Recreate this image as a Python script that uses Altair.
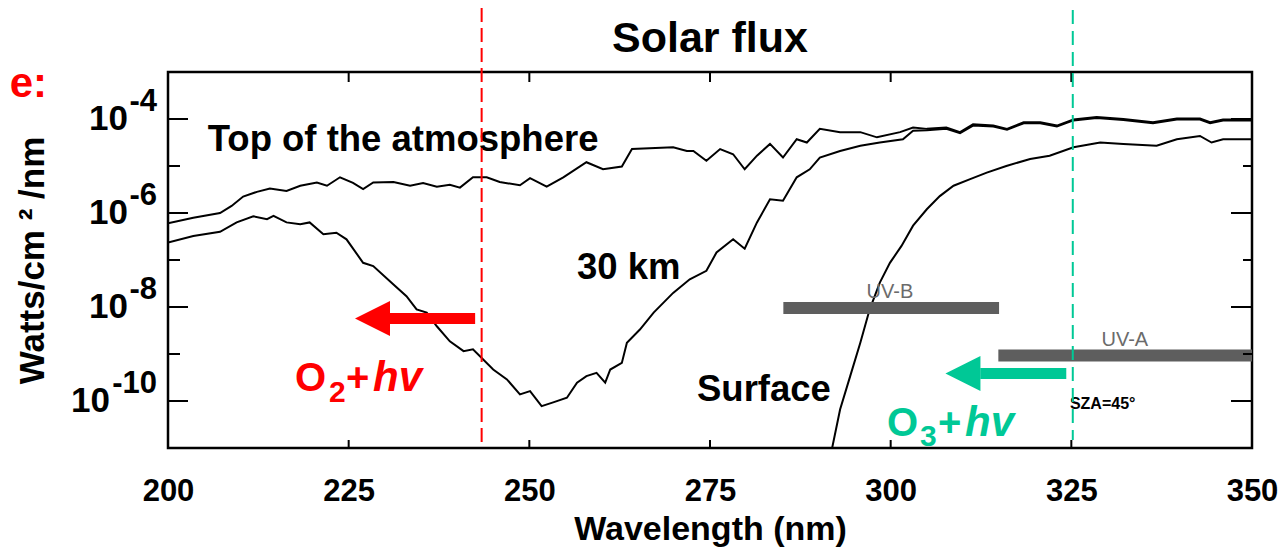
import altair as alt
import pandas as pd

SANS = "Liberation Sans"
RED = "#ff0000"
GREEN = "#00c896"

# ---- data (log10 of W/cm2/nm) ----
toa_wl = [200.0, 203.5, 207.2, 208.8, 210.4, 212.3, 214.1, 216.4, 218.3, 220.6, 222.0, 223.8,
          225.6, 227.0, 228.4, 231.2, 233.5, 235.3, 237.2, 239.0, 240.4, 242.2, 244.1, 245.9,
          248.7, 250.1, 252.4, 254.7, 257.9, 260.2, 262.8, 264.2, 269.9, 271.8, 272.7, 274.5,
          276.4, 278.2, 279.8, 281.5, 283.3, 285.1, 287.0, 288.4, 290.2, 293.0, 295.8, 298.1,
          301.3, 303.1, 305.0, 307.7, 309.6, 311.4, 314.2, 316.1, 318.4, 320.7, 323.0, 325.3,
          328.5, 332.2, 336.3, 339.6, 342.8, 344.2, 346.0, 350.0]
toa_log = [-6.22, -6.10, -6.00, -5.85, -5.65, -5.55, -5.48, -5.53, -5.42, -5.35, -5.42, -5.24,
           -5.36, -5.49, -5.35, -5.34, -5.42, -5.36, -5.44, -5.40, -5.46, -5.24, -5.24, -5.34,
           -5.41, -5.26, -5.44, -5.24, -4.92, -5.07, -5.01, -4.64, -4.60, -4.68, -4.68, -4.89,
           -4.64, -4.75, -5.07, -4.78, -4.53, -4.82, -4.43, -4.50, -4.21, -4.28, -4.28, -4.39,
           -4.28, -4.18, -4.21, -4.18, -4.28, -4.11, -4.14, -4.21, -4.07, -4.07, -4.14, -4.01,
           -3.96, -4.00, -4.07, -3.99, -3.99, -4.07, -4.01, -4.01]

km30_wl = [200.0, 203.5, 207.2, 209.5, 211.8, 213.7, 214.6, 216.4, 218.3, 219.6, 221.5, 223.3,
           224.7, 227.0, 228.4, 231.2, 233.0, 234.4, 235.8, 237.2, 239.0, 240.9, 242.2, 245.0,
           246.9, 248.7, 250.1, 251.7, 253.3, 255.2, 256.6, 257.9, 259.3, 260.5, 261.2, 262.8,
           263.5, 265.3, 267.2, 269.9, 272.2, 274.5, 275.9, 278.2, 279.8, 281.5, 283.3, 285.1,
           287.0, 288.8, 290.2, 293.0, 295.8, 298.5, 301.7, 303.1, 305.0, 307.7, 309.6, 311.4,
           314.2, 316.1, 318.4, 320.7, 323.0, 325.3, 328.5, 332.2, 336.3, 339.6, 342.8, 344.2,
           346.0, 350.0]
km30_log = [-6.63, -6.49, -6.40, -6.20, -6.07, -6.13, -6.06, -6.20, -6.24, -6.20, -6.45, -6.42,
            -6.56, -7.06, -7.13, -7.52, -7.77, -8.05, -8.12, -8.41, -8.73, -8.94, -8.90, -9.33,
            -9.54, -9.86, -9.79, -10.11, -10.03, -9.93, -9.61, -9.47, -9.40, -9.61, -9.33, -9.19,
            -8.76, -8.48, -8.12, -7.70, -7.41, -7.23, -6.84, -6.56, -6.76, -6.20, -5.71, -5.74,
            -5.24, -5.07, -4.82, -4.68, -4.57, -4.50, -4.43, -4.25, -4.24, -4.21, -4.30, -4.14,
            -4.16, -4.23, -4.09, -4.09, -4.16, -4.03, -3.98, -4.02, -4.09, -4.01, -4.01, -4.09,
            -4.03, -4.03]

sfc_wl = [291.7, 293.0, 294.4, 295.8, 297.1, 298.5, 299.9, 301.5, 303.1, 305.0, 306.8, 308.7,
          311.0, 313.3, 316.0, 319.3, 322.0, 325.3, 329.0, 332.2, 336.8, 339.6, 342.8, 344.4,
          346.0, 350.0]
sfc_log = [-11.15, -10.18, -9.47, -8.76, -8.05, -7.48, -7.06, -6.70, -6.27, -5.92, -5.64, -5.42,
           -5.28, -5.14, -5.00, -4.85, -4.78, -4.60, -4.50, -4.53, -4.57, -4.43, -4.36, -4.50,
           -4.43, -4.43]

# UV bands
uv_names = ["UV-B", "UV-A"]
uv_start = [285.15, 314.9]
uv_end = [315.0, 350.0]
uv_log = [-8.02, -9.03]
uv_label_wl = [299.9, 332.4]
uv_label_log = [-7.80, -8.82]

# curve labels
curve_labels = ["Top of the atmosphere", "30 km", "Surface"]
curve_label_wl = [205.5, 256.6, 273.2]
curve_label_log = [-4.68, -7.41, -9.99]

# axis ticks
x_tick_labels = [200, 225, 250, 275, 300, 325, 350]
x_minor = [225, 250, 275, 300, 325]
y_even_log = [-10, -8, -6, -4]
y_odd_log = [-9, -7, -5]

# dashed cut-off wavelengths and arrows
o2_cut = 243.4
o3_cut = 325.2
arrow_tail = [242.5, 324.3]
arrow_neck = [230.6, 312.4]
arrow_tip_center = [228.3, 310.0]
arrow_log = [-8.243, -9.416]
arrow_color = [RED, GREEN]

# chemistry labels pieces
chem_main_wl = [217.57, 224.63, 299.49, 306.55]
chem_main_t = ["O", "+", "O", "+"]
chem_main_log = [-9.79, -9.79, -10.74, -10.74]
chem_main_c = [RED, RED, GREEN, GREEN]
chem_sub_wl = [222.28, 304.06]
chem_sub_t = ["2", "3"]
chem_sub_log = [-10.03, -10.95]
chem_sub_c = [RED, GREEN]
chem_it_wl = [228.37, 310.29]
chem_it_log = [-9.79, -10.74]
chem_it_c = [RED, GREEN]

W, H = 1084, 376

x_scale = alt.Scale(domain=[200, 350], nice=False, zero=False)
y_scale = alt.Scale(type="log", domain=[1e-11, 1e-3], nice=False)

x_axis = alt.Axis(values=x_tick_labels, title="Wavelength (nm)", grid=False, ticks=False,
                  tickSize=0, domain=False, labelFlush=False, labelFont=SANS,
                  labelFontSize=31, labelFontWeight="bold", labelColor="black",
                  labelPadding=52, labelBaseline="alphabetic", titleFont=SANS,
                  titleFontSize=34, titleFontWeight="bold", titleColor="black",
                  titleY=91, titleBaseline="alphabetic")
y_axis = alt.Axis(title="Watts/cm ² /nm", labels=False, ticks=False, domain=False, grid=False,
                  titleX=-125, titleY=188, titleAlign="center", titleBaseline="alphabetic",
                  titleFont=SANS, titleFontSize=35, titleFontWeight="bold", titleColor="black")

X = alt.X("wl:Q", scale=x_scale, axis=x_axis)
Y = alt.Y("v:Q", scale=y_scale, axis=y_axis)
POW = "pow(10, datum.lg)"

lines_df = pd.concat([
    pd.DataFrame({"wl": toa_wl, "lg": toa_log, "s": "toa"}),
    pd.DataFrame({"wl": km30_wl, "lg": km30_log, "s": "30km"}),
    pd.DataFrame({"wl": sfc_wl, "lg": sfc_log, "s": "sfc"}),
])
lines = alt.Chart(lines_df).transform_calculate(v=POW).mark_line(
    color="black", strokeWidth=2, clip=True).encode(x=X, y=Y, detail="s:N")

uv_df = pd.DataFrame({"wl": uv_start, "wl2": uv_end, "lg": uv_log})
uv_bars = alt.Chart(uv_df).transform_calculate(v=POW).mark_rule(
    color="#5e5e5e", strokeWidth=12).encode(x=X, x2="wl2:Q", y=Y)
uv_text = alt.Chart(pd.DataFrame({"wl": uv_label_wl, "lg": uv_label_log, "t": uv_names})
                    ).transform_calculate(v=POW).mark_text(
    font=SANS, fontSize=20, color="#6b6b6b", align="center", baseline="alphabetic"
).encode(x=X, y=Y, text="t:N")
sza = alt.Chart(pd.DataFrame({"wl": [324.8], "lg": [-10.18], "t": ["SZA=45°"]})
                ).transform_calculate(v=POW).mark_text(
    font=SANS, fontSize=16, fontWeight="bold", color="black", align="left",
    baseline="alphabetic").encode(x=X, y=Y, text="t:N")

labels = alt.Chart(pd.DataFrame({"wl": curve_label_wl, "lg": curve_label_log, "t": curve_labels})
                   ).transform_calculate(v=POW).mark_text(
    font=SANS, fontSize=36.5, fontWeight="bold", color="black", align="left",
    baseline="alphabetic").encode(x=X, y=Y, text="t:N")

# inward frame ticks
ye = pd.DataFrame({"lg": y_even_log})
yo = pd.DataFrame({"lg": y_odd_log})
tick_l_e = alt.Chart(ye).transform_calculate(v=POW).mark_rule(color="black", strokeWidth=2).encode(
    y=Y, x=alt.value(0), x2=alt.value(20))
tick_l_o = alt.Chart(yo).transform_calculate(v=POW).mark_rule(color="black", strokeWidth=2).encode(
    y=Y, x=alt.value(0), x2=alt.value(12))
tick_r_e = alt.Chart(ye).transform_calculate(v=POW).mark_rule(color="black", strokeWidth=2).encode(
    y=Y, x=alt.value(W), x2=alt.value(W - 21))
tick_r_o = alt.Chart(yo).transform_calculate(v=POW).mark_rule(color="black", strokeWidth=2).encode(
    y=Y, x=alt.value(W), x2=alt.value(W - 9))
xt = pd.DataFrame({"wl": x_minor})
tick_b = alt.Chart(xt).mark_rule(color="black", strokeWidth=2).encode(
    x=X, y=alt.value(H), y2=alt.value(H - 8))
tick_t = alt.Chart(xt).mark_rule(color="black", strokeWidth=2).encode(
    x=X, y=alt.value(0), y2=alt.value(10))

# y tick labels 10^n
short_e = pd.DataFrame({"lg": [-8, -6, -4], "e": ["-8", "-6", "-4"]})
long_e = pd.DataFrame({"lg": [-10], "e": ["-10"]})
all_e = pd.DataFrame({"lg": y_even_log, "e": ["-10", "-8", "-6", "-4"]})
base_s = alt.Chart(short_e).transform_calculate(v=POW).mark_text(
    font=SANS, fontSize=35, fontWeight="bold", color="black", align="right", baseline="middle"
).encode(y=Y, x=alt.value(-40), text=alt.value("10"))
base_l = alt.Chart(long_e).transform_calculate(v=POW).mark_text(
    font=SANS, fontSize=35, fontWeight="bold", color="black", align="right", baseline="middle"
).encode(y=Y, x=alt.value(-58), text=alt.value("10"))
expo = alt.Chart(all_e).transform_calculate(v=POW).mark_text(
    font=SANS, fontSize=31, fontWeight="bold", color="black", align="right", baseline="middle",
    dy=-17).encode(y=Y, x=alt.value(-11), text="e:N")

# dashed cut-off lines
red_dash = alt.Chart(pd.DataFrame({"wl": [o2_cut]})).mark_rule(
    color=RED, strokeWidth=2, strokeDash=[14, 6]).encode(x=X, y=alt.value(-64), y2=alt.value(371))
green_dash = alt.Chart(pd.DataFrame({"wl": [o3_cut]})).mark_rule(
    color=GREEN, strokeWidth=2, strokeDash=[14, 7]).encode(x=X, y=alt.value(-62), y2=alt.value(368))

# arrows
arr_df = pd.DataFrame({"wl": arrow_neck, "wl2": arrow_tail, "lg": arrow_log, "c": arrow_color})
shafts = alt.Chart(arr_df).transform_calculate(v=POW).mark_rule(strokeWidth=11).encode(
    x=X, x2="wl2:Q", y=Y, color=alt.Color("c:N", scale=None))
heads = alt.Chart(pd.DataFrame({"wl": arrow_tip_center, "lg": arrow_log, "c": arrow_color})
                  ).transform_calculate(v=POW).mark_point(
    shape="M 1 -1 L -1 0 L 1 1 Z", size=1225, filled=True, opacity=1, strokeWidth=0
).encode(x=X, y=Y, color=alt.Color("c:N", scale=None))

chem_main = alt.Chart(pd.DataFrame({"wl": chem_main_wl, "lg": chem_main_log, "t": chem_main_t,
                                    "c": chem_main_c})).transform_calculate(v=POW).mark_text(
    font=SANS, fontSize=40, fontWeight="bold", align="left", baseline="alphabetic"
).encode(x=X, y=Y, text="t:N", color=alt.Color("c:N", scale=None))
chem_sub = alt.Chart(pd.DataFrame({"wl": chem_sub_wl, "lg": chem_sub_log, "t": chem_sub_t,
                                   "c": chem_sub_c})).transform_calculate(v=POW).mark_text(
    font=SANS, fontSize=30, fontWeight="bold", align="left", baseline="alphabetic"
).encode(x=X, y=Y, text="t:N", color=alt.Color("c:N", scale=None))
chem_it = alt.Chart(pd.DataFrame({"wl": chem_it_wl, "lg": chem_it_log, "t": ["hv", "hv"],
                                  "c": chem_it_c})).transform_calculate(v=POW).mark_text(
    font=SANS, fontSize=42, fontWeight="bold", fontStyle="italic", align="left",
    baseline="alphabetic").encode(x=X, y=Y, text="t:N", color=alt.Color("c:N", scale=None))

corner = alt.Chart(pd.DataFrame({"t": ["e:"]})).mark_text(
    font=SANS, fontSize=42, fontWeight="bold", color=RED, align="right", baseline="alphabetic"
).encode(x=alt.value(-121), y=alt.value(25), text="t:N")

title = alt.Chart(pd.DataFrame({"t": ["Solar flux"]})).mark_text(
    font=SANS, fontSize=43, fontWeight="bold", color="black", align="center",
    baseline="alphabetic").encode(x=alt.value(W / 2), y=alt.value(-20), text="t:N")

chart = alt.layer(
    lines, uv_bars, uv_text, sza, labels, tick_l_e, tick_l_o, tick_r_e, tick_r_o, tick_b, tick_t,
    base_s, base_l, expo, red_dash, green_dash, shafts, heads, chem_main, chem_sub, chem_it,
    corner, title
).properties(
    width=W, height=H,
    autosize=alt.AutoSizeParams(type="none"),
    padding={"left": 160, "top": 64, "right": 26, "bottom": 99},
).configure_view(stroke="black", strokeWidth=2.5)

chart.save("out.html", embed_options={"renderer": "svg", "actions": False})
